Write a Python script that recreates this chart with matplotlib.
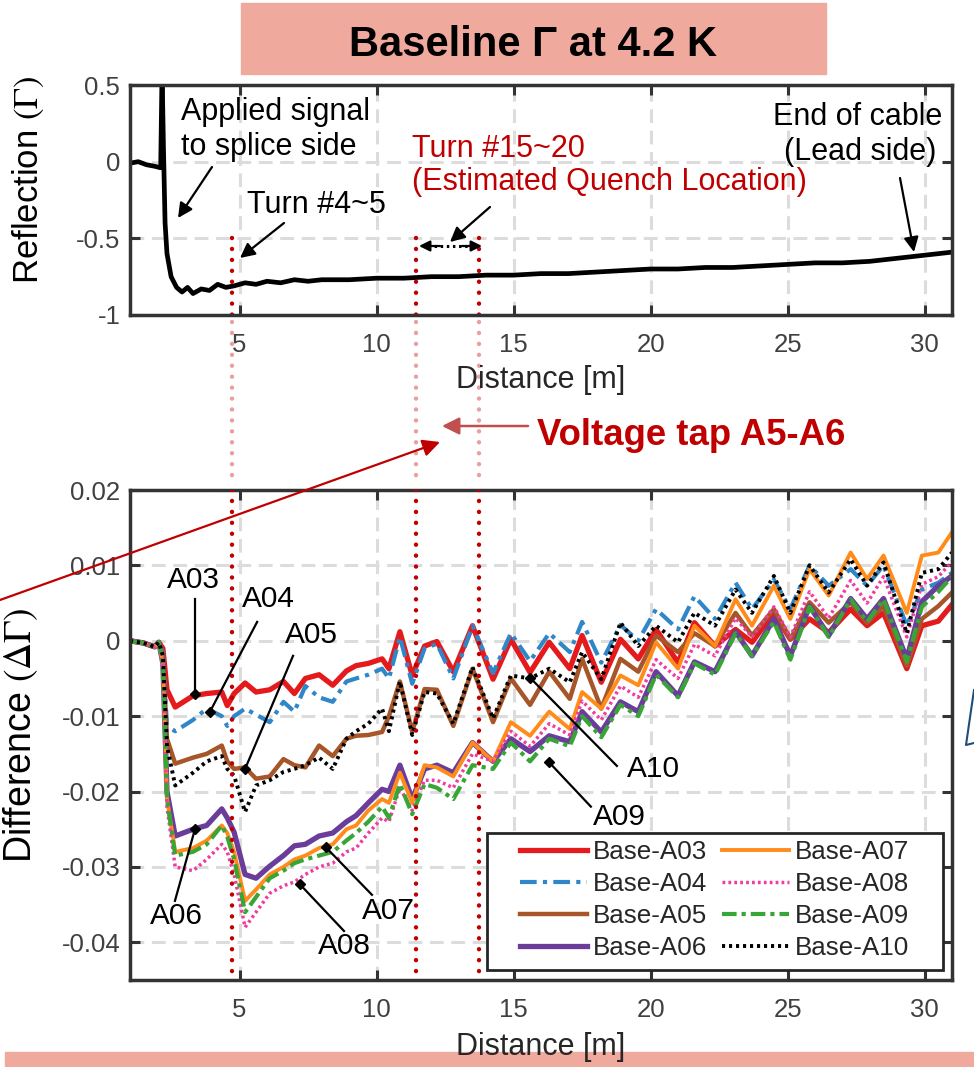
import numpy as np
import matplotlib
matplotlib.use("Agg")
import matplotlib.pyplot as plt
from matplotlib.patches import Rectangle

plt.rcParams['axes.unicode_minus'] = False
plt.rcParams['mathtext.fontset'] = 'stix'

W, H = 974, 1067
SANS = 'Liberation Sans'
DARKRED = '#c00000'

# top panel: baseline reflection at 4.2 K
dist_top = [1.0, 1.3, 1.6, 1.9, 2.12, 2.17, 2.22, 2.28, 2.35, 2.5, 2.7, 2.9,
            3.1, 3.3, 3.6, 3.9, 4.2, 4.5, 4.8, 5.2, 5.6, 6.0, 6.5, 7.0, 7.5, 8.0,
            9, 10, 11, 12, 13, 14, 15, 16, 17, 18, 19, 20, 21, 22, 23, 24, 25,
            26, 27, 28, 29, 30, 31]
refl_top = [-0.01, 0.0, -0.02, -0.03, -0.04, 0.6, 0.1, -0.4, -0.6, -0.75, -0.82, -0.85,
            -0.82, -0.86, -0.83, -0.84, -0.80, -0.82, -0.81, -0.79, -0.80, -0.78, -0.79,
            -0.77, -0.78, -0.77,
            -0.77, -0.76, -0.76, -0.75, -0.75, -0.74, -0.74, -0.73, -0.73, -0.72, -0.71,
            -0.70, -0.70, -0.69, -0.69, -0.68, -0.67, -0.66, -0.66, -0.65, -0.63, -0.61, -0.59]

# bottom panel: difference to baseline, values in units of 1e-3
dist = [1.0, 1.5, 1.9, 2.05, 2.2, 2.35, 2.65, 3.3, 3.8, 4.35,
        4.55, 4.8, 5.2, 5.6, 6.1, 6.6, 7.0, 7.4, 7.9, 8.4,
        8.9, 9.25, 9.7, 10.2, 10.45, 10.85, 11.3, 11.75, 12.2, 12.8,
        13.5, 14.25, 14.9, 15.6, 16.3, 17.05, 17.5, 18.2, 18.9, 19.55,
        20.2, 21.0, 21.6, 22.35, 23.1, 23.7, 24.5, 25.1, 25.8, 26.5,
        27.3, 27.9, 28.5, 29.35, 29.9, 30.5, 31.0]
a03 = [0, -0.3, -0.8, -0.2, -1.0, -6.5, -8.8, -7.3, -7.0, -6.8,
       -8.6, -7.0, -5.6, -6.8, -6.5, -5.4, -7.0, -5.0, -4.5, -5.9,
       -4.0, -3.3, -3.0, -2.4, -3.7, 1.2, -4.6, -0.7, -0.1, -4.1,
       2.0, -5.1, 0.2, -4.2, -0.2, -3.7, 0.7, -5.5, 0.2, -2.4,
       1.5, -2.9, 2.4, -0.7, 1.5, -0.2, 3.7, 0.2, 2.9, 1.1,
       4.2, 2.0, 3.7, -3.7, 2.0, 2.6, 4.8]
a04 = [0, -0.3, -0.8, -0.2, -1.5, -11.3, -12.0, -10.5, -9.0, -10.0,
       -11.3, -10.0, -9.0, -9.8, -10.8, -8.1, -9.4, -6.0, -7.5, -8.1,
       -5.4, -5.0, -4.5, -3.7, -5.0, 0.5, -5.7, -1.0, -0.4, -5.0,
       2.0, -4.3, 1.0, -2.7, 1.0, -1.5, 2.5, -2.9, 2.1, 0.0,
       4.2, 1.5, 5.9, 2.9, 7.7, 4.2, 8.1, 4.2, 10.0, 7.3,
       9.5, 7.3, 10.0, 2.0, 6.8, 7.7, 9.0]
a05 = [0, -0.3, -0.8, -0.2, -2.0, -13.0, -16.3, -15.5, -15.0, -13.9,
       -16.0, -17.0, -16.8, -18.3, -18.0, -15.7, -16.5, -16.8, -13.9, -15.3,
       -13.0, -12.6, -12.5, -12.1, -10.0, -5.4, -12.1, -6.4, -6.5, -11.3,
       -3.7, -10.8, -5.0, -8.5, -4.1, -7.7, -2.4, -9.0, -2.4, -4.1,
       0.7, -1.5, 1.0, -0.7, 3.7, 0.7, 4.2, 0.2, 5.1, 2.4,
       5.1, 2.4, 4.6, -3.3, 2.9, 4.6, 6.4]
a06 = [0, -0.3, -0.8, -0.2, -3.0, -20.0, -25.9, -25.0, -24.5, -22.3,
       -23.5, -25.4, -31.0, -31.5, -29.9, -28.5, -27.2, -27.0, -25.9, -25.5,
       -24.0, -23.2, -21.5, -19.7, -20.0, -16.5, -21.0, -17.0, -16.5, -17.5,
       -13.5, -16.0, -13.0, -14.7, -12.6, -13.4, -9.4, -12.1, -8.1, -9.4,
       -4.1, -7.3, -2.8, -4.1, 1.2, -2.0, 2.9, -2.0, 4.6, 0.7,
       5.6, 2.9, 5.6, -2.4, 5.2, 7.3, 8.6]
a07 = [0, -0.3, -0.8, -0.2, -3.0, -21.0, -28.0, -27.5, -26.5, -24.5,
       -25.5, -28.0, -34.5, -33.0, -31.0, -30.0, -29.0, -28.5, -27.5, -27.0,
       -25.0, -24.5, -22.5, -21.0, -21.5, -17.5, -21.5, -16.5, -16.8, -18.0,
       -13.5, -16.0, -10.8, -12.6, -9.4, -11.7, -6.8, -9.0, -4.6, -5.9,
       -0.2, -3.7, 2.0, -0.7, 5.5, 2.0, 7.3, 2.9, 9.5, 6.0,
       11.7, 8.2, 11.3, 3.7, 11.3, 11.7, 14.4]
a08 = [0, -0.3, -0.8, -0.2, -3.0, -22.0, -30.0, -30.5, -29.0, -27.0,
       -28.0, -31.0, -38.0, -36.0, -33.5, -32.5, -32.0, -31.0, -30.0, -29.5,
       -28.0, -27.5, -25.5, -23.5, -24.0, -19.5, -22.5, -18.5, -18.5, -19.5,
       -15.0, -16.0, -12.0, -14.0, -11.0, -12.5, -8.0, -10.5, -6.0, -7.5,
       -2.5, -5.0, -0.5, -2.0, 3.0, 0.5, 4.5, 0.5, 6.5, 3.0,
       8.0, 5.0, 8.5, 0.5, 7.5, 8.5, 10.5]
a09 = [0, -0.3, -0.8, -0.2, -3.0, -21.0, -28.5, -28.0, -27.0, -24.5,
       -26.0, -29.0, -36.0, -34.0, -31.5, -30.5, -29.5, -29.0, -28.5, -28.0,
       -26.5, -25.5, -24.0, -22.0, -23.5, -19.0, -23.0, -19.0, -19.5, -21.0,
       -16.5, -17.0, -13.5, -16.0, -13.0, -14.0, -10.0, -12.8, -8.5, -10.0,
       -4.5, -7.5, -3.0, -4.5, 1.0, -2.0, 2.5, -2.5, 4.5, 0.5,
       5.5, 2.5, 5.5, -2.8, 4.5, 6.5, 8.5]
a10 = [0, -0.3, -0.8, -0.2, -2.0, -14.0, -19.2, -17.5, -16.0, -15.3,
       -17.0, -17.9, -22.7, -19.2, -18.5, -17.4, -17.0, -16.5, -15.5, -17.0,
       -13.0, -12.0, -11.0, -9.0, -12.0, -5.4, -12.5, -6.8, -7.0, -11.0,
       -3.5, -10.3, -4.6, -5.0, -3.7, -5.5, -1.5, -5.1, 2.4, -0.7,
       2.0, -0.2, 3.7, 2.0, 6.8, 3.7, 8.6, 3.7, 10.0, 6.4,
       10.8, 7.3, 10.4, 1.0, 9.0, 9.5, 11.7]

quench_marks = [4.72, 11.44, 13.74]

series = [
    ('Base-A03', a03, '#e41a1c', '-', 3.8),
    ('Base-A04', a04, '#2f86c8', (0, (4, 1.5, 1, 1.5)), 3.0),
    ('Base-A05', a05, '#a65628', '-', 3.2),
    ('Base-A06', a06, '#6a3d9a', '-', 3.8),
    ('Base-A07', a07, '#ff8c1a', '-', 2.8),
    ('Base-A08', a08, '#f03ca0', (0, (0.8, 0.9)), 2.5),
    ('Base-A09', a09, '#3aa537', (0, (3.5, 1.2, 1, 1.2)), 3.0),
    ('Base-A10', a10, 'black', (0, (0.8, 1.0)), 2.8),
]


def style_axes(ax):
    for s in ax.spines.values():
        s.set_linewidth(2.5)
        s.set_color('#333333')
    ax.tick_params(direction='in', length=7, width=2.2, top=True, right=True,
                   color='#333333', labelcolor='#404040', labelsize=18.5)
    ax.tick_params(axis='x', pad=13)
    ax.tick_params(axis='y', pad=7)
    for lab in ax.get_xticklabels() + ax.get_yticklabels():
        lab.set_family(SANS)
    ax.grid(True, color='#dcdcdc', linestyle=(0, (4.5, 2.5)), lw=2.2)
    ax.set_axisbelow(True)


fig = plt.figure(figsize=(W / 100, H / 100), dpi=100)

bg = fig.add_axes([0, 0, 1, 1], zorder=-1)
bg.set_xlim(0, W)
bg.set_ylim(H, 0)
bg.axis('off')
bg.add_patch(Rectangle((241, 3), 585, 71, color='#efa99d'))
bg.add_patch(Rectangle((5, 1052), 969, 15, color='#efa99d'))

# top panel
ax1 = fig.add_axes([130 / W, 1 - 315 / H, 822 / W, 230 / H])
ax1.plot(dist_top, refl_top, color='black', lw=3.4, solid_joinstyle='round')
for xm in quench_marks:
    ax1.plot([xm, xm], [-0.5, -1], color=DARKRED, lw=3.2,
             linestyle=(0, (0.01, 2.45)), dash_capstyle='round')
ax1.set_xlim(1, 31)
ax1.set_ylim(-1, 0.5)
ax1.set_xticks([5, 10, 15, 20, 25, 30])
ax1.set_yticks([-1, -0.5, 0, 0.5])
ax1.set_yticklabels(['-1', '-0.5', '0', '0.5'])
style_axes(ax1)

# bottom panel
ax2 = fig.add_axes([130 / W, 1 - 980 / H, 822 / W, 490 / H])
for label, vals, color, ls, lw in series:
    ax2.plot(dist, np.array(vals) * 1e-3, color=color, linestyle=ls, lw=lw,
             label=label, solid_joinstyle='round')
for xm in quench_marks:
    ax2.plot([xm, xm], [0.02, -0.0445], color=DARKRED, lw=3.2,
             linestyle=(0, (0.01, 2.45)), dash_capstyle='round', zorder=5)
ax2.set_xlim(1, 31)
ax2.set_ylim(-0.045, 0.02)
ax2.set_xticks([5, 10, 15, 20, 25, 30])
ax2.set_yticks([-0.04, -0.03, -0.02, -0.01, 0, 0.01, 0.02])
ax2.set_yticklabels(['-0.04', '-0.03', '-0.02', '-0.01', '0', '0.01', '0.02'])
style_axes(ax2)

# curve labels: text, line start, marker on curve
callouts = [
    ('A03', (3.30, 0.0080), (3.37, 0.0056), (3.37, -0.0070)),
    ('A04', (6.04, 0.0056), (5.64, 0.0025), (3.92, -0.0094)),
    ('A05', (7.64, 0.0007), (6.95, -0.0020), (5.20, -0.0170)),
    ('A06', (2.68, -0.0365), (2.64, -0.0345), (3.37, -0.0250)),
    ('A07', (10.45, -0.0359), (9.83, -0.0337), (8.15, -0.0274)),
    ('A08', (8.81, -0.0405), (8.81, -0.0385), (7.20, -0.0323)),
    ('A09', (18.85, -0.0234), (17.82, -0.0220), (16.29, -0.0161)),
    ('A10', (20.09, -0.0170), (18.77, -0.0166), (15.60, -0.0049)),
]
for txt, tpos, p0, p1 in callouts:
    ax2.plot([p0[0], p1[0]], [p0[1], p1[1]], color='black', lw=1.6, zorder=6)
    ax2.plot(p1[0], p1[1], 'D', color='black', ms=5, zorder=6)
    ax2.text(tpos[0], tpos[1], txt, ha='center', va='center', fontsize=21.5,
             family=SANS, zorder=7)

# legend: MATLAB-like box with wide side padding
ax2.add_patch(Rectangle((487 / W, 1 - 970 / H), 456 / W, 137 / H, transform=fig.transFigure,
                        facecolor='white', edgecolor='#262626', lw=2, zorder=7.5))
leg = ax2.legend(ncol=2, loc='upper left', bbox_to_anchor=(520 / W, 1 - 840 / H),
                 bbox_transform=fig.transFigure, frameon=False, borderaxespad=0,
                 borderpad=0, prop={'family': SANS, 'size': 18.7},
                 handlelength=2.58, handletextpad=0.23, columnspacing=0.58,
                 labelspacing=0.31)
for t in leg.get_texts():
    t.set_color('#262626')
leg.set_zorder(8)

# overlay in pixel coordinates (origin top-left)
ov = fig.add_axes([0, 0, 1, 1], zorder=5)
ov.set_xlim(0, W)
ov.set_ylim(H, 0)
ov.axis('off')

ov.text(533, 56, 'Baseline Γ at 4.2 K', ha='center', va='baseline', fontsize=30,
        weight='bold', family=SANS)
ov.text(28, 180, r'Reflection $(\Gamma)$', rotation=90, ha='center', va='center',
        fontsize=25, family=SANS)
ov.text(21, 735, r'Difference $(\Delta\Gamma)$', rotation=90, ha='center', va='center',
        fontsize=27, family=SANS)
ov.text(541, 388, 'Distance [m]', ha='center', va='baseline', fontsize=22,
        family=SANS, color='#262626')
ov.text(541, 1055, 'Distance [m]', ha='center', va='baseline', fontsize=22,
        family=SANS, color='#262626')

# quench marks between the two panels
for xm in quench_marks:
    px = 130 + (xm - 1) * 27.4
    ov.plot([px, px], [322, 484], color='#e8a0a0', lw=3.2,
            linestyle=(0, (0.01, 2.45)), dash_capstyle='round')

ov.text(181, 120, 'Applied signal', fontsize=22, family=SANS, va='baseline')
ov.text(181, 155, 'to splice side', fontsize=22, family=SANS, va='baseline')
ov.text(247, 213, 'Turn #4~5', fontsize=22, family=SANS, va='baseline')
ov.text(412, 157, 'Turn #15~20', fontsize=22, family=SANS, va='baseline', color=DARKRED)
ov.text(412, 190, '(Estimated Quench Location)', fontsize=22, family=SANS,
        va='baseline', color=DARKRED)
ov.text(858, 125, 'End of cable', fontsize=22, family=SANS, va='baseline', ha='center')
ov.text(860, 160, '(Lead side)', fontsize=22, family=SANS, va='baseline', ha='center')


def arrow(p_from, p_to, color='black', lw=1.6, scale=22, ls='-'):
    ov.annotate('', xy=p_to, xytext=p_from, annotation_clip=False,
                arrowprops=dict(arrowstyle='-|>', color=color, lw=lw, linestyle=ls,
                                mutation_scale=scale, shrinkA=0, shrinkB=0))


arrow((212, 167), (178, 218))
arrow((284, 223), (240, 258))
arrow((490, 207), (450, 242))
arrow((900, 178), (914, 252))
ov.plot([428, 473], [246, 246], color='black', lw=2.2, linestyle=(0, (0.8, 1.2)))
arrow((440, 246), (419, 246), scale=16)
arrow((462, 246), (482, 246), scale=16)

# voltage tap callout
ov.text(537, 445, 'Voltage tap A5-A6', fontsize=26.3, weight='bold', family=SANS,
        color=DARKRED, va='baseline')
arrow((528, 426), (442, 426), color='#c0504d', lw=1.8, scale=26)
arrow((0, 600), (440, 442), color=DARKRED, lw=1.6, scale=26)

# fragment of neighbouring drawing at the right edge
ov.plot([974, 966, 974], [690, 745, 743], color='#1f4e79', lw=1.5)

fig.savefig('out.png', dpi=100)
